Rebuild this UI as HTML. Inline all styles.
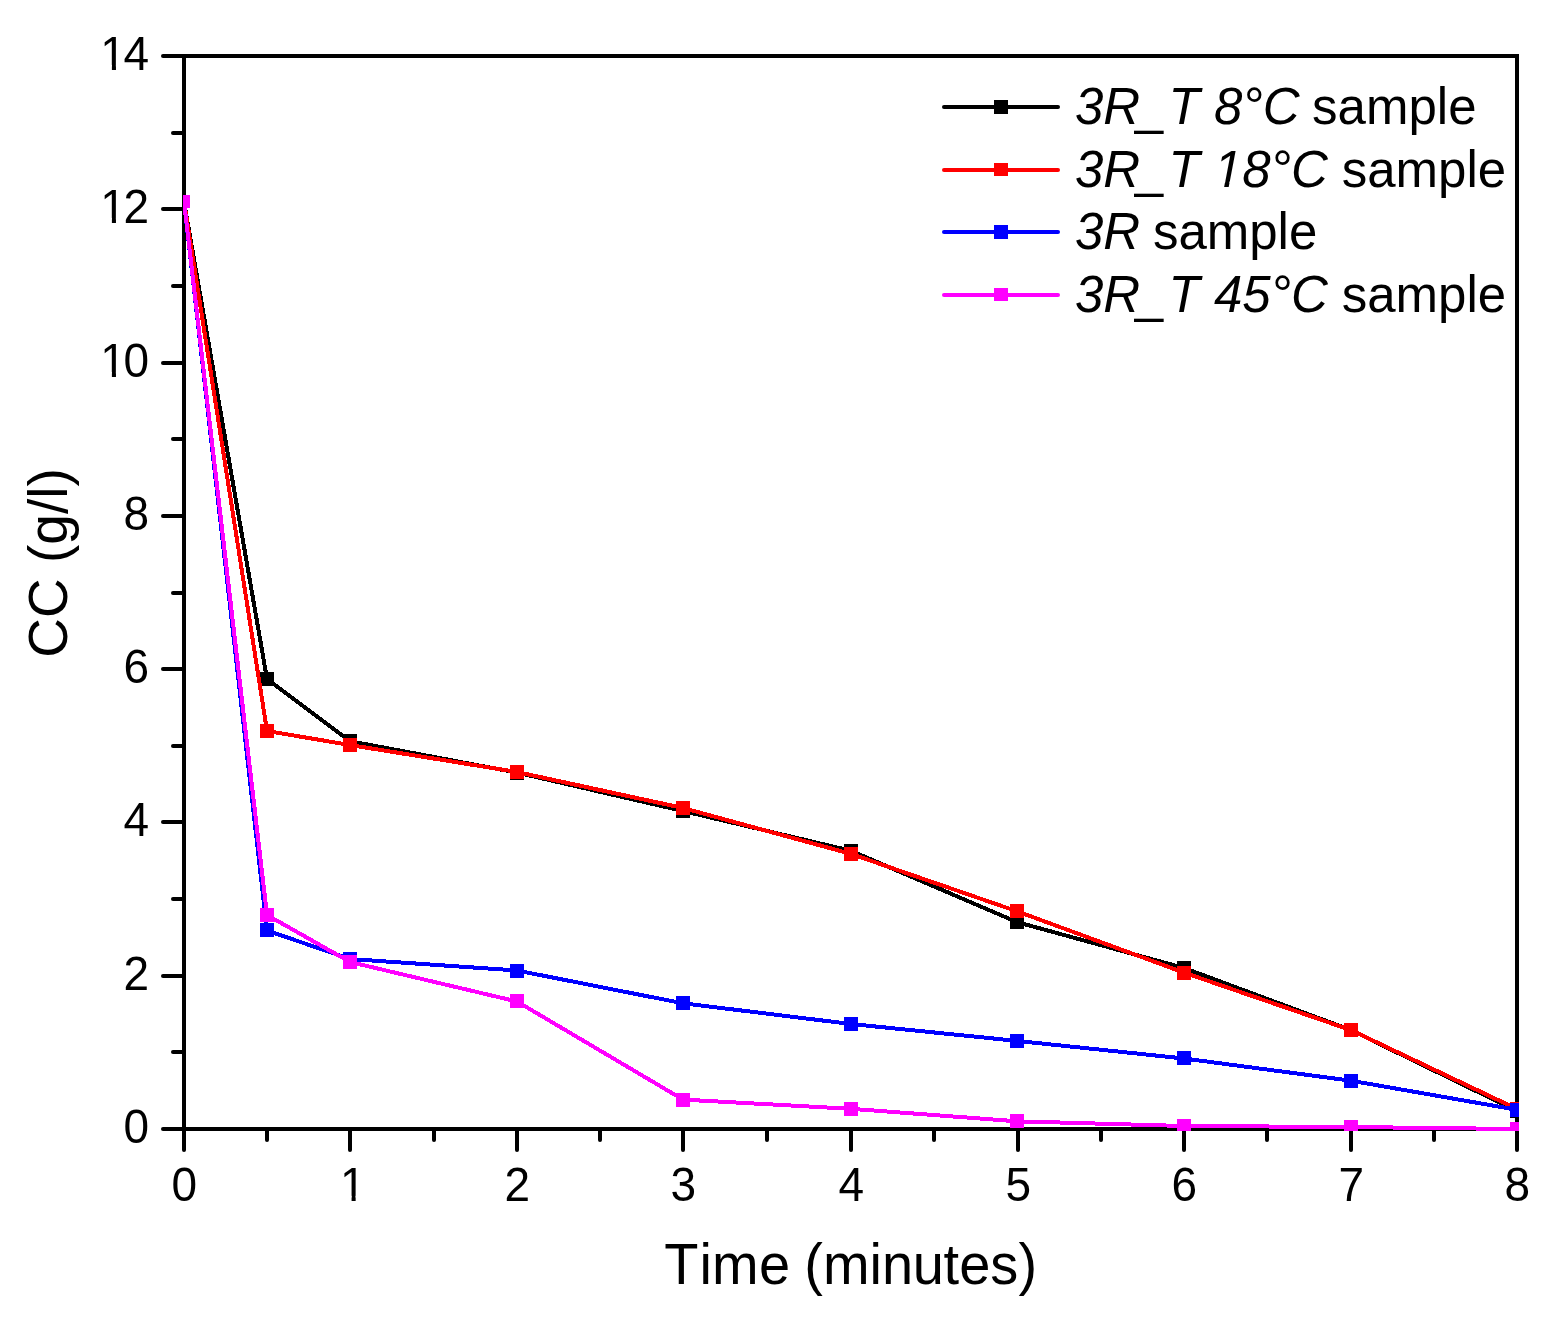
<!DOCTYPE html>
<html lang="en"><head><meta charset="utf-8"><title>CC vs Time</title>
<style>html,body{margin:0;padding:0;background:#fff;}body{width:1551px;height:1319px;overflow:hidden;}svg{display:block;}text{font-family:"Liberation Sans",sans-serif;fill:#000;font-kerning:none;}.i{font-style:italic;}</style>
</head><body>
<svg width="1551" height="1319" viewBox="0 0 1551 1319">
<rect x="0" y="0" width="1551" height="1319" fill="#fff"/>
<defs><clipPath id="clip"><rect x="183" y="54" width="1336" height="1077"/></clipPath></defs>
<g stroke="#000" stroke-width="4" stroke-linecap="round" fill="none">
<rect x="184" y="56" width="1333" height="1073" stroke-linejoin="miter"/>
<line x1="184" y1="1129" x2="184" y2="1150"/>
<line x1="267" y1="1129" x2="267" y2="1140"/>
<line x1="350" y1="1129" x2="350" y2="1150"/>
<line x1="434" y1="1129" x2="434" y2="1140"/>
<line x1="517" y1="1129" x2="517" y2="1150"/>
<line x1="600" y1="1129" x2="600" y2="1140"/>
<line x1="683" y1="1129" x2="683" y2="1150"/>
<line x1="767" y1="1129" x2="767" y2="1140"/>
<line x1="851" y1="1129" x2="851" y2="1150"/>
<line x1="934" y1="1129" x2="934" y2="1140"/>
<line x1="1018" y1="1129" x2="1018" y2="1150"/>
<line x1="1101" y1="1129" x2="1101" y2="1140"/>
<line x1="1184" y1="1129" x2="1184" y2="1150"/>
<line x1="1267" y1="1129" x2="1267" y2="1140"/>
<line x1="1351" y1="1129" x2="1351" y2="1150"/>
<line x1="1434" y1="1129" x2="1434" y2="1140"/>
<line x1="1517" y1="1129" x2="1517" y2="1150"/>
<line x1="184" y1="1129" x2="163" y2="1129"/>
<line x1="184" y1="1052" x2="173" y2="1052"/>
<line x1="184" y1="976" x2="163" y2="976"/>
<line x1="184" y1="899" x2="173" y2="899"/>
<line x1="184" y1="822" x2="163" y2="822"/>
<line x1="184" y1="746" x2="173" y2="746"/>
<line x1="184" y1="669" x2="163" y2="669"/>
<line x1="184" y1="593" x2="173" y2="593"/>
<line x1="184" y1="516" x2="163" y2="516"/>
<line x1="184" y1="439" x2="173" y2="439"/>
<line x1="184" y1="363" x2="163" y2="363"/>
<line x1="184" y1="286" x2="173" y2="286"/>
<line x1="184" y1="209" x2="163" y2="209"/>
<line x1="184" y1="133" x2="173" y2="133"/>
<line x1="184" y1="56" x2="163" y2="56"/>
</g>
<g clip-path="url(#clip)" shape-rendering="crispEdges">
<polyline points="184.0,201.6 267.0,679.0 350.0,741.2 517.0,772.6 683.0,811.0 851.0,850.8 1017.0,922.1 1184.0,968.0 1351.0,1030.1 1517.0,1111.0" fill="none" stroke="#000000" stroke-width="4" stroke-linejoin="round"/>
<rect x="176" y="195" width="14" height="13" fill="#000000"/>
<rect x="260" y="672" width="14" height="14" fill="#000000"/>
<rect x="343" y="734" width="14" height="14" fill="#000000"/>
<rect x="510" y="766" width="14" height="14" fill="#000000"/>
<rect x="676" y="804" width="14" height="14" fill="#000000"/>
<rect x="844" y="844" width="14" height="14" fill="#000000"/>
<rect x="1010" y="915" width="14" height="14" fill="#000000"/>
<rect x="1177" y="961" width="14" height="14" fill="#000000"/>
<rect x="1344" y="1023" width="14" height="14" fill="#000000"/>
<rect x="1510" y="1104" width="14" height="14" fill="#000000"/>
<polyline points="184.0,201.6 267.0,731.0 350.0,745.0 517.0,772.0 683.0,808.0 851.0,853.9 1017.0,911.3 1184.0,972.6 1351.0,1030.1 1517.0,1109.0" fill="none" stroke="#ff0000" stroke-width="4" stroke-linejoin="round"/>
<rect x="176" y="195" width="14" height="13" fill="#ff0000"/>
<rect x="260" y="724" width="14" height="14" fill="#ff0000"/>
<rect x="343" y="738" width="14" height="14" fill="#ff0000"/>
<rect x="510" y="765" width="14" height="14" fill="#ff0000"/>
<rect x="676" y="801" width="14" height="14" fill="#ff0000"/>
<rect x="844" y="847" width="14" height="14" fill="#ff0000"/>
<rect x="1010" y="904" width="14" height="14" fill="#ff0000"/>
<rect x="1177" y="966" width="14" height="14" fill="#ff0000"/>
<rect x="1344" y="1023" width="14" height="14" fill="#ff0000"/>
<rect x="1510" y="1102" width="14" height="14" fill="#ff0000"/>
<polyline points="184.0,201.6 267.0,930.5 350.0,959.0 517.0,970.5 683.0,1003.3 851.0,1024.0 1017.0,1040.9 1184.0,1058.5 1351.0,1080.7 1517.0,1109.8" fill="none" stroke="#0000ff" stroke-width="4" stroke-linejoin="round"/>
<rect x="176" y="195" width="14" height="13" fill="#0000ff"/>
<rect x="260" y="923" width="14" height="14" fill="#0000ff"/>
<rect x="343" y="952" width="14" height="14" fill="#0000ff"/>
<rect x="510" y="964" width="14" height="14" fill="#0000ff"/>
<rect x="676" y="996" width="14" height="14" fill="#0000ff"/>
<rect x="844" y="1017" width="14" height="14" fill="#0000ff"/>
<rect x="1010" y="1034" width="14" height="14" fill="#0000ff"/>
<rect x="1177" y="1051" width="14" height="14" fill="#0000ff"/>
<rect x="1344" y="1074" width="14" height="14" fill="#0000ff"/>
<rect x="1510" y="1103" width="14" height="14" fill="#0000ff"/>
<polyline points="184.0,201.6 267.0,915.0 350.0,962.0 517.0,1001.5 683.0,1099.6 851.0,1108.8 1017.0,1121.3 1184.0,1126.0 1351.0,1127.0 1517.0,1129.0" fill="none" stroke="#ff00ff" stroke-width="4" stroke-linejoin="round"/>
<rect x="176" y="195" width="14" height="13" fill="#ff00ff"/>
<rect x="260" y="908" width="14" height="14" fill="#ff00ff"/>
<rect x="343" y="955" width="14" height="14" fill="#ff00ff"/>
<rect x="510" y="994" width="14" height="14" fill="#ff00ff"/>
<rect x="676" y="1093" width="14" height="14" fill="#ff00ff"/>
<rect x="844" y="1102" width="14" height="14" fill="#ff00ff"/>
<rect x="1010" y="1114" width="14" height="14" fill="#ff00ff"/>
<rect x="1177" y="1119" width="14" height="14" fill="#ff00ff"/>
<rect x="1344" y="1120" width="14" height="14" fill="#ff00ff"/>
<rect x="1510" y="1122" width="14" height="14" fill="#ff00ff"/>
</g>
<text transform="translate(0,1200.8) scale(1,1.03)" x="171.51" font-size="46">0</text>
<text transform="translate(0,1200.8) scale(1,1.03)" x="340.01" font-size="46">1</text>
<polygon transform="translate(340.01,1200.80) scale(0.022461,-0.023135)" points="90,-25 515,-25 515,215 90,215" fill="#fff"/>
<polygon transform="translate(340.01,1200.80) scale(0.022461,-0.023135)" points="696,-25 1090,-25 1090,215 696,215" fill="#fff"/>
<text transform="translate(0,1200.8) scale(1,1.03)" x="504.51" font-size="46">2</text>
<text transform="translate(0,1200.8) scale(1,1.03)" x="670.51" font-size="46">3</text>
<text transform="translate(0,1200.8) scale(1,1.03)" x="838.51" font-size="46">4</text>
<text transform="translate(0,1200.8) scale(1,1.03)" x="1005.51" font-size="46">5</text>
<text transform="translate(0,1200.8) scale(1,1.03)" x="1171.51" font-size="46">6</text>
<text transform="translate(0,1200.8) scale(1,1.03)" x="1338.51" font-size="46">7</text>
<text transform="translate(0,1200.8) scale(1,1.03)" x="1504.51" font-size="46">8</text>
<text transform="translate(0,1142.9) scale(1,1.03)" x="123.42" font-size="46">0</text>
<text transform="translate(0,989.9) scale(1,1.03)" x="123.42" font-size="46">2</text>
<text transform="translate(0,835.9) scale(1,1.03)" x="123.42" font-size="46">4</text>
<text transform="translate(0,682.9) scale(1,1.03)" x="123.42" font-size="46">6</text>
<text transform="translate(0,529.9) scale(1,1.03)" x="123.42" font-size="46">8</text>
<text transform="translate(0,376.9) scale(1,1.03)" x="100.33 123.42" font-size="46">10</text>
<polygon transform="translate(100.33,376.90) scale(0.022461,-0.023135)" points="90,-25 515,-25 515,215 90,215" fill="#fff"/>
<polygon transform="translate(100.33,376.90) scale(0.022461,-0.023135)" points="696,-25 1090,-25 1090,215 696,215" fill="#fff"/>
<text transform="translate(0,222.9) scale(1,1.03)" x="100.33 123.42" font-size="46">12</text>
<polygon transform="translate(100.33,222.90) scale(0.022461,-0.023135)" points="90,-25 515,-25 515,215 90,215" fill="#fff"/>
<polygon transform="translate(100.33,222.90) scale(0.022461,-0.023135)" points="696,-25 1090,-25 1090,215 696,215" fill="#fff"/>
<text transform="translate(0,69.9) scale(1,1.03)" x="100.33 123.42" font-size="46">14</text>
<polygon transform="translate(100.33,69.90) scale(0.022461,-0.023135)" points="90,-25 515,-25 515,215 90,215" fill="#fff"/>
<polygon transform="translate(100.33,69.90) scale(0.022461,-0.023135)" points="696,-25 1090,-25 1090,215 696,215" fill="#fff"/>
<text transform="translate(0,1283.7) scale(1,1.025)" x="664.16 699.56 712.00 758.93 789.27 804.32 822.96 869.59 882.03 912.77 943.50 959.25 990.19 1018.48" font-size="56">Time (minutes)</text>
<text transform="translate(67.3,563) rotate(-90) scale(1,1.02)" font-size="55" text-anchor="middle">CC (g/l)</text>
<line x1="944" y1="107" x2="1058" y2="107" stroke="#000000" stroke-width="4" stroke-linecap="round"/>
<rect x="994" y="100" width="14" height="14" fill="#000000" shape-rendering="crispEdges"/>
<text transform="translate(1075,124) scale(1,1.03)" font-size="51" text-anchor="start"><tspan class="i">3R</tspan><tspan dx="-5.4">_</tspan><tspan class="i" dx="5.4">T 8°C</tspan></text>
<text transform="translate(1312.1,124) scale(1,1.01)" font-size="51" text-anchor="start">sample</text>
<line x1="944" y1="170" x2="1058" y2="170" stroke="#ff0000" stroke-width="4" stroke-linecap="round"/>
<rect x="994" y="163" width="14" height="13" fill="#ff0000" shape-rendering="crispEdges"/>
<text transform="translate(1075,187) scale(1,1.03)" font-size="51" text-anchor="start"><tspan class="i">3R</tspan><tspan dx="-5.4">_</tspan><tspan class="i" dx="5.4">T 18°C</tspan></text>
<polygon transform="translate(1213.88,187.00) scale(0.024902,-0.025649)" points="0,-25 45.7,215 454,215 407.4,-25" fill="#fff"/>
<polygon transform="translate(1213.88,187.00) scale(0.024902,-0.025649)" points="635,215 1024.7,215 978,-25 588.4,-25" fill="#fff"/>
<text transform="translate(1341.7,187) scale(1,1.01)" font-size="51" text-anchor="start">sample</text>
<line x1="944" y1="232" x2="1058" y2="232" stroke="#0000ff" stroke-width="4" stroke-linecap="round"/>
<rect x="994" y="225" width="14" height="14" fill="#0000ff" shape-rendering="crispEdges"/>
<text transform="translate(1075,249) scale(1,1.03)" font-size="51" text-anchor="start"><tspan class="i">3R</tspan></text>
<text transform="translate(1152.9,249) scale(1,1.01)" font-size="51" text-anchor="start">sample</text>
<line x1="944" y1="295" x2="1058" y2="295" stroke="#ff00ff" stroke-width="4" stroke-linecap="round"/>
<rect x="994" y="288" width="14" height="13" fill="#ff00ff" shape-rendering="crispEdges"/>
<text transform="translate(1075,312) scale(1,1.03)" font-size="51" text-anchor="start"><tspan class="i">3R</tspan><tspan dx="-5.4">_</tspan><tspan class="i" dx="5.4">T 45°C</tspan></text>
<text transform="translate(1341.7,312) scale(1,1.01)" font-size="51" text-anchor="start">sample</text>
</svg>
</body></html>
